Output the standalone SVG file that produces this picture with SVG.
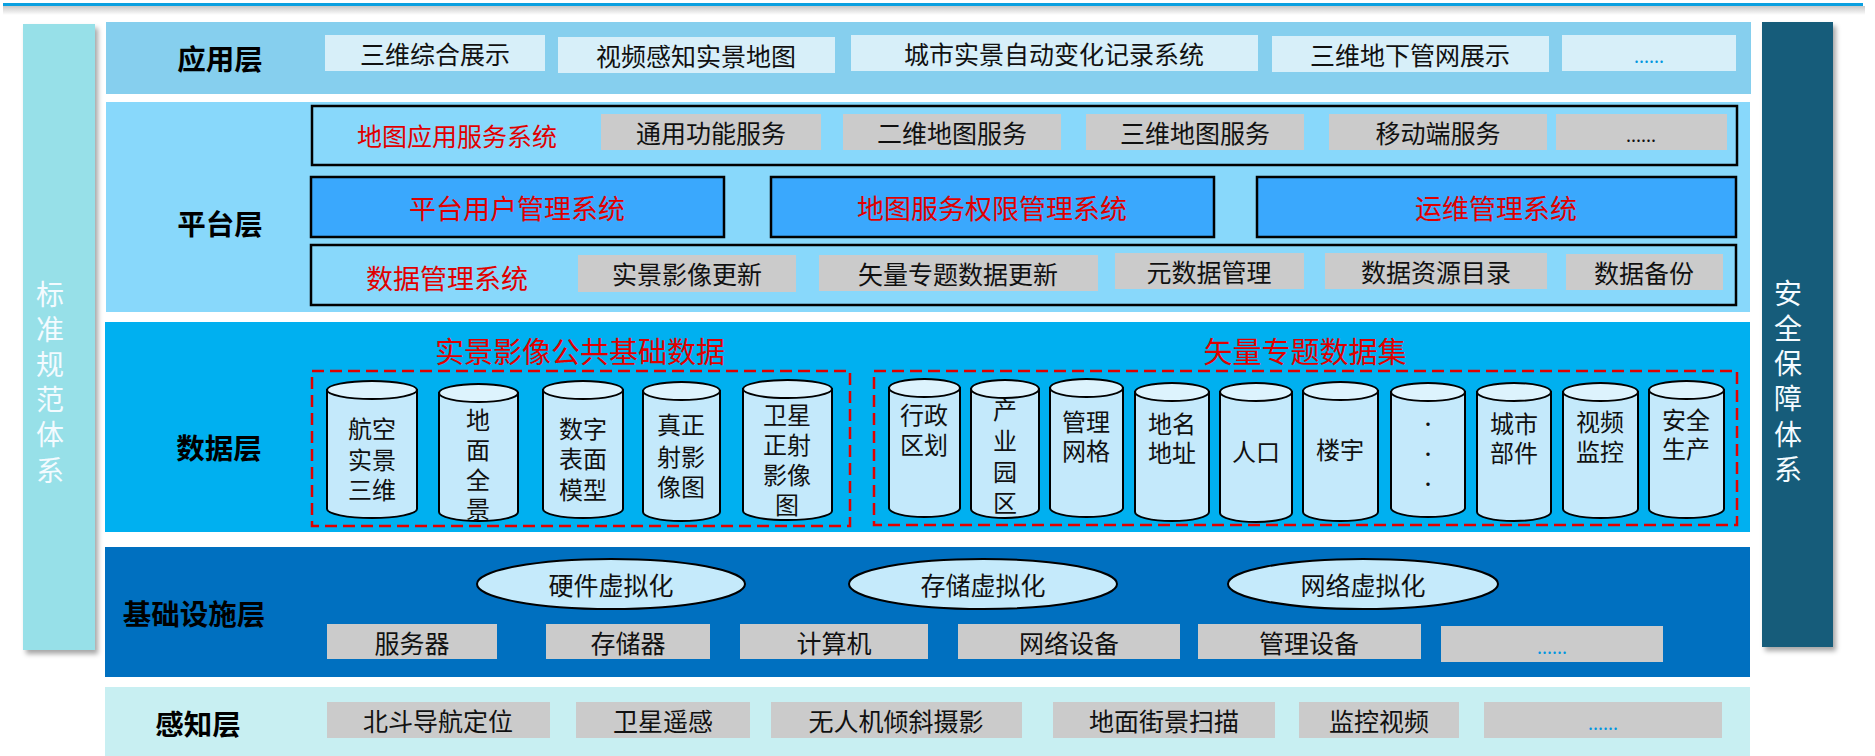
<svg xmlns="http://www.w3.org/2000/svg" width="1875" height="756" viewBox="0 0 1875 756">
<defs>
<style>
text{font-family:"Noto Sans CJK SC","Noto Sans",sans-serif;dominant-baseline:central;text-anchor:middle}
.lbl{font-size:28.5px;font-weight:bold;fill:#000}
.t{font-size:25px;fill:#111}
.red{font-size:27px;fill:#e00000}
.red2{font-size:25px;fill:#e00000}
.ttl{font-size:29px;fill:#e00000}
.dots{font-size:18px;fill:#0096e0}
.dk{font-size:18px;fill:#111}
.vt{font-size:28px;fill:#f4fbff}
.app{fill:#d7eff9}
.gray{fill:#cbcbcb}
.frame{fill:none;stroke:#000;stroke-width:2.5}
.sys{fill:#3aa8fd;stroke:#000;stroke-width:2.5}
.dash{fill:none;stroke:#e00000;stroke-width:2.5;stroke-dasharray:12 6}
.cyl{fill:#c4e9fb;stroke:#000;stroke-width:2}
.cyltop{fill:#ddf3fd;stroke:#000;stroke-width:2}
.ell{fill:#c5eafb;stroke:#000;stroke-width:2}
.ct{font-size:24px;fill:#111}
.cdot{font-size:16px;fill:#111}
</style>
<filter id="sh" x="-20%" y="-5%" width="150%" height="110%">
<feDropShadow dx="3" dy="4" stdDeviation="2.5" flood-color="#000" flood-opacity="0.35"/>
</filter>
<linearGradient id="lineSh" x1="0" y1="0" x2="0" y2="1">
<stop offset="0" stop-color="#c8c8c8"/>
<stop offset="1" stop-color="#ffffff"/>
</linearGradient>
</defs>
<rect width="1875" height="756" fill="#ffffff"/>

<g id="topline">
<rect x="3" y="6" width="1862" height="9" fill="url(#lineSh)"/>
<rect x="3" y="3" width="1860" height="3" fill="#0aa0e0"/>
</g>

<g id="standards">
<rect x="23" y="24" width="72" height="626" fill="#97e0e8" filter="url(#sh)"/>
<text class="vt"><tspan x="50" y="293">标</tspan><tspan x="50" y="328">准</tspan><tspan x="50" y="363">规</tspan><tspan x="50" y="398">范</tspan><tspan x="50" y="433">体</tspan><tspan x="50" y="469">系</tspan></text>
</g>

<g id="security">
<rect x="1762" y="22" width="71" height="625" fill="#145c7a" filter="url(#sh)"/>
<text class="vt"><tspan x="1788" y="292">安</tspan><tspan x="1788" y="327">全</tspan><tspan x="1788" y="362">保</tspan><tspan x="1788" y="397">障</tspan><tspan x="1788" y="433">体</tspan><tspan x="1788" y="468">系</tspan></text>
</g>

<g id="app-layer">
<rect x="106" y="22" width="1645" height="72" fill="#86cfee"/>
<text class="lbl" x="220" y="57">应用层</text>
<rect class="app" x="325" y="35" width="220" height="36"/>
<text class="t" x="435" y="53">三维综合展示</text>
<rect class="app" x="558" y="37" width="277" height="36"/>
<text class="t" x="696" y="55">视频感知实景地图</text>
<rect class="app" x="851" y="35" width="407" height="36"/>
<text class="t" x="1054" y="53">城市实景自动变化记录系统</text>
<rect class="app" x="1272" y="36" width="277" height="36"/>
<text class="t" x="1410" y="54">三维地下管网展示</text>
<rect class="app" x="1562" y="35" width="174" height="36"/>
<text class="dots" x="1649" y="55">......</text>
</g>

<g id="platform-layer">
<rect x="106" y="102" width="1644" height="210" fill="#88d8fb"/>
<text class="lbl" x="220" y="222">平台层</text>
</g>

<g id="map-service-system">
<rect class="frame" x="312" y="106" width="1425" height="59"/>
<text class="red2" x="457" y="135">地图应用服务系统</text>
<rect class="gray" x="601" y="114" width="220" height="36"/>
<text class="t" x="711" y="132">通用功能服务</text>
<rect class="gray" x="843" y="114" width="218" height="36"/>
<text class="t" x="952" y="132">二维地图服务</text>
<rect class="gray" x="1086" y="114" width="218" height="36"/>
<text class="t" x="1195" y="132">三维地图服务</text>
<rect class="gray" x="1329" y="114" width="218" height="36"/>
<text class="t" x="1438" y="132">移动端服务</text>
<rect class="gray" x="1556" y="114" width="171" height="36"/>
<text class="dk" x="1641" y="134">......</text>
</g>

<g id="user-mgmt">
<rect class="sys" x="311" y="177" width="413" height="60"/>
<text class="red" x="517" y="207">平台用户管理系统</text>
</g>
<g id="perm-mgmt">
<rect class="sys" x="771" y="177" width="443" height="60"/>
<text class="red" x="992" y="207">地图服务权限管理系统</text>
</g>
<g id="ops-mgmt">
<rect class="sys" x="1257" y="177" width="479" height="60"/>
<text class="red" x="1496" y="207">运维管理系统</text>
</g>

<g id="data-mgmt-system">
<rect class="frame" x="311" y="245" width="1425" height="60"/>
<text class="red" x="447" y="277">数据管理系统</text>
<rect class="gray" x="578" y="255" width="218" height="37"/>
<text class="t" x="687" y="273">实景影像更新</text>
<rect class="gray" x="819" y="255" width="279" height="36"/>
<text class="t" x="958" y="273">矢量专题数据更新</text>
<rect class="gray" x="1115" y="253" width="189" height="36"/>
<text class="t" x="1209" y="271">元数据管理</text>
<rect class="gray" x="1325" y="253" width="222" height="36"/>
<text class="t" x="1436" y="271">数据资源目录</text>
<rect class="gray" x="1566" y="254" width="157" height="36"/>
<text class="t" x="1644" y="272">数据备份</text>
</g>

<g id="data-layer">
<rect x="105" y="322" width="1645" height="210" fill="#00b0f0"/>
<text class="lbl" x="219" y="446">数据层</text>
</g>

<g id="realscene-data">
<text class="ttl" x="580" y="350">实景影像公共基础数据</text>
<rect class="dash" x="312" y="371" width="538" height="155"/>
<g id="cyl-l1">
<path class="cyl" d="M327,390 L327,509 A45,9 0 0 0 417,509 L417,390 Z"/>
<ellipse class="cyltop" cx="372" cy="390" rx="45" ry="9"/>
<text class="ct"><tspan x="372" y="427">航空</tspan><tspan x="372" y="458">实景</tspan><tspan x="372" y="488">三维</tspan></text>
</g>
<g id="cyl-l2">
<path class="cyl" d="M439,393 L439,512 A39.5,9 0 0 0 518,512 L518,393 Z"/>
<ellipse class="cyltop" cx="478.5" cy="393" rx="39.5" ry="9"/>
<text class="ct"><tspan x="478" y="418">地</tspan><tspan x="478" y="448">面</tspan><tspan x="478" y="478">全</tspan><tspan x="478" y="507">景</tspan></text>
</g>
<g id="cyl-l3">
<path class="cyl" d="M543,390 L543,509 A40,9 0 0 0 623,509 L623,390 Z"/>
<ellipse class="cyltop" cx="583" cy="390" rx="40" ry="9"/>
<text class="ct"><tspan x="583" y="427">数字</tspan><tspan x="583" y="457">表面</tspan><tspan x="583" y="488">模型</tspan></text>
</g>
<g id="cyl-l4">
<path class="cyl" d="M643,391 L643,512 A38.5,9 0 0 0 720,512 L720,391 Z"/>
<ellipse class="cyltop" cx="681.5" cy="391" rx="38.5" ry="9"/>
<text class="ct"><tspan x="681" y="423">真正</tspan><tspan x="681" y="455">射影</tspan><tspan x="681" y="485">像图</tspan></text>
</g>
<g id="cyl-l5">
<path class="cyl" d="M743,389 L743,511 A44.5,9 0 0 0 832,511 L832,389 Z"/>
<ellipse class="cyltop" cx="787.5" cy="389" rx="44.5" ry="9"/>
<text class="ct"><tspan x="787" y="413">卫星</tspan><tspan x="787" y="443">正射</tspan><tspan x="787" y="473">影像</tspan><tspan x="787" y="503">图</tspan></text>
</g>
</g>

<g id="vector-data">
<text class="ttl" x="1305" y="350">矢量专题数据集</text>
<rect class="dash" x="874" y="371" width="863" height="154"/>
<g id="cyl-r1">
<path class="cyl" d="M889,388 L889,508 A35.5,9 0 0 0 960,508 L960,388 Z"/>
<ellipse class="cyltop" cx="924.5" cy="388" rx="35.5" ry="9"/>
<text class="ct"><tspan x="924" y="413">行政</tspan><tspan x="924" y="443">区划</tspan></text>
</g>
<g id="cyl-r2">
<path class="cyl" d="M971,389 L971,509 A34,9 0 0 0 1039,509 L1039,389 Z"/>
<ellipse class="cyltop" cx="1005" cy="389" rx="34" ry="9"/>
<text class="ct"><tspan x="1005" y="408">产</tspan><tspan x="1005" y="439">业</tspan><tspan x="1005" y="470">园</tspan><tspan x="1005" y="501">区</tspan></text>
</g>
<g id="cyl-r3">
<path class="cyl" d="M1050,388 L1050,508 A36.5,9 0 0 0 1123,508 L1123,388 Z"/>
<ellipse class="cyltop" cx="1086.5" cy="388" rx="36.5" ry="9"/>
<text class="ct"><tspan x="1086" y="420">管理</tspan><tspan x="1086" y="449">网格</tspan></text>
</g>
<g id="cyl-r4">
<path class="cyl" d="M1135,392 L1135,512 A37,9 0 0 0 1209,512 L1209,392 Z"/>
<ellipse class="cyltop" cx="1172" cy="392" rx="37" ry="9"/>
<text class="ct"><tspan x="1172" y="422">地名</tspan><tspan x="1172" y="451">地址</tspan></text>
</g>
<g id="cyl-r5">
<path class="cyl" d="M1220,392 L1220,513 A36,9 0 0 0 1292,513 L1292,392 Z"/>
<ellipse class="cyltop" cx="1256" cy="392" rx="36" ry="9"/>
<text class="ct" x="1256" y="450">人口</text>
</g>
<g id="cyl-r6">
<path class="cyl" d="M1303,391 L1303,512 A37.5,9 0 0 0 1378,512 L1378,391 Z"/>
<ellipse class="cyltop" cx="1340.5" cy="391" rx="37.5" ry="9"/>
<text class="ct" x="1340" y="448">楼宇</text>
</g>
<g id="cyl-r7">
<path class="cyl" d="M1391,392 L1391,508 A37,9 0 0 0 1465,508 L1465,392 Z"/>
<ellipse class="cyltop" cx="1428" cy="392" rx="37" ry="9"/>
<text class="cdot"><tspan x="1428" y="423">·</tspan><tspan x="1428" y="453">·</tspan><tspan x="1428" y="483">·</tspan></text>
</g>
<g id="cyl-r8">
<path class="cyl" d="M1477,392 L1477,512 A37,9 0 0 0 1551,512 L1551,392 Z"/>
<ellipse class="cyltop" cx="1514" cy="392" rx="37" ry="9"/>
<text class="ct"><tspan x="1514" y="422">城市</tspan><tspan x="1514" y="451">部件</tspan></text>
</g>
<g id="cyl-r9">
<path class="cyl" d="M1563,392 L1563,509 A37.5,9 0 0 0 1638,509 L1638,392 Z"/>
<ellipse class="cyltop" cx="1600.5" cy="392" rx="37.5" ry="9"/>
<text class="ct"><tspan x="1600" y="420">视频</tspan><tspan x="1600" y="450">监控</tspan></text>
</g>
<g id="cyl-r10">
<path class="cyl" d="M1649,390 L1649,509 A37.5,9 0 0 0 1724,509 L1724,390 Z"/>
<ellipse class="cyltop" cx="1686.5" cy="390" rx="37.5" ry="9"/>
<text class="ct"><tspan x="1686" y="418">安全</tspan><tspan x="1686" y="447">生产</tspan></text>
</g>
</g>

<g id="infra-layer">
<rect x="105" y="547" width="1645" height="130" fill="#0070c0"/>
<text class="lbl" x="194" y="612">基础设施层</text>
<ellipse class="ell" cx="611" cy="584" rx="134" ry="25"/>
<text class="t" x="611" y="584">硬件虚拟化</text>
<ellipse class="ell" cx="983" cy="584" rx="134" ry="25"/>
<text class="t" x="983" y="584">存储虚拟化</text>
<ellipse class="ell" cx="1363" cy="584" rx="135" ry="25"/>
<text class="t" x="1363" y="584">网络虚拟化</text>
<rect class="gray" x="327" y="624" width="170" height="35"/>
<text class="t" x="412" y="642">服务器</text>
<rect class="gray" x="546" y="624" width="164" height="35"/>
<text class="t" x="628" y="642">存储器</text>
<rect class="gray" x="740" y="624" width="188" height="35"/>
<text class="t" x="834" y="642">计算机</text>
<rect class="gray" x="958" y="624" width="222" height="35"/>
<text class="t" x="1069" y="642">网络设备</text>
<rect class="gray" x="1198" y="624" width="223" height="35"/>
<text class="t" x="1309" y="642">管理设备</text>
<rect class="gray" x="1441" y="626" width="222" height="36"/>
<text class="dots" x="1552" y="646">......</text>
</g>

<g id="sense-layer">
<rect x="105" y="687" width="1645" height="69" fill="#c8eff2"/>
<text class="lbl" x="198" y="722">感知层</text>
<rect class="gray" x="327" y="702" width="223" height="36"/>
<text class="t" x="438" y="720">北斗导航定位</text>
<rect class="gray" x="576" y="702" width="174" height="36"/>
<text class="t" x="663" y="720">卫星遥感</text>
<rect class="gray" x="771" y="702" width="251" height="36"/>
<text class="t" x="896" y="720">无人机倾斜摄影</text>
<rect class="gray" x="1053" y="702" width="222" height="36"/>
<text class="t" x="1164" y="720">地面街景扫描</text>
<rect class="gray" x="1299" y="702" width="160" height="36"/>
<text class="t" x="1379" y="720">监控视频</text>
<rect class="gray" x="1484" y="702" width="238" height="36"/>
<text class="dots" x="1603" y="722">......</text>
</g>
</svg>
